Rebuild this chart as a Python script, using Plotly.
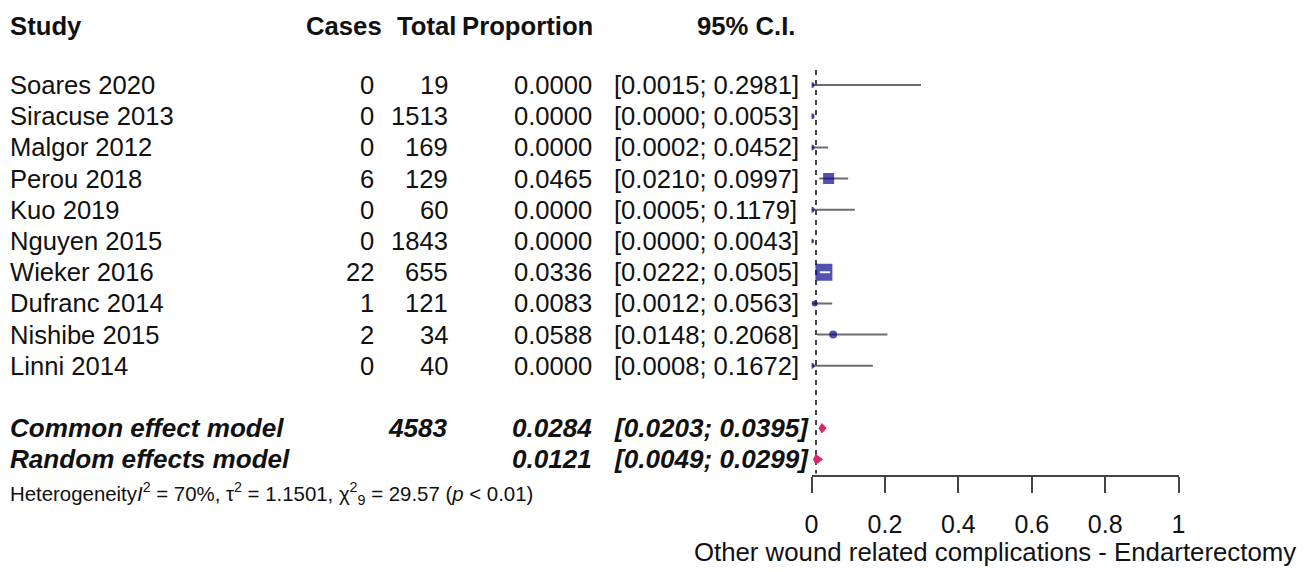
import plotly.graph_objects as go

# Study-level data
studies = ["Soares 2020", "Siracuse 2013", "Malgor 2012", "Perou 2018", "Kuo 2019",
           "Nguyen 2015", "Wieker 2016", "Dufranc 2014", "Nishibe 2015", "Linni 2014"]
cases = [0, 0, 0, 6, 0, 0, 22, 1, 2, 0]
totals = [19, 1513, 169, 129, 60, 1843, 655, 121, 34, 40]
proportion = [0.0000, 0.0000, 0.0000, 0.0465, 0.0000, 0.0000, 0.0336, 0.0083, 0.0588, 0.0000]
ci_lower = [0.0015, 0.0000, 0.0002, 0.0210, 0.0005, 0.0000, 0.0222, 0.0012, 0.0148, 0.0008]
ci_upper = [0.2981, 0.0053, 0.0452, 0.0997, 0.1179, 0.0043, 0.0505, 0.0563, 0.2068, 0.1672]

# Pooled estimates
model_names = ["Common effect model", "Random effects model"]
model_total = [4583, None]
model_est = [0.0284, 0.0121]
model_lower = [0.0203, 0.0049]
model_upper = [0.0395, 0.0299]

tick_values = [0, 0.2, 0.4, 0.6, 0.8, 1]
tick_labels = ["0", "0.2", "0.4", "0.6", "0.8", "1"]
x_title = "Other wound related complications - Endarterectomy"
heterogeneity = ("Heterogeneity<i>I</i><sup>2</sup> = 70%, τ<sup>2</sup> = 1.1501, "
                 "χ<sup>2</sup><sub>9</sub> = 29.57 (<i>p</i> &lt; 0.01)")

# Marker sizes (box area follows study weight)
box_sizes = [6, 6, 6, 11, 6, 5, 17, 6, 8, 6]

W, H = 1309, 572
ROW0, ROWH = 85, 31.2          # pixel centre of the first row and row pitch
FONT = "Liberation Sans, Arial, sans-serif"
TXT = "#111111"
PAD = 1                        # inner padding of annotation boxes
X_OFF, X_SCALE = 8, 0.988      # horizontal placement of the page content

n = len(studies)
rows = list(range(n))
model_rows = [n + 1, n + 2]
head_row = -1.89
het_row = 13.08


def px(x):
    """Horizontal pixel position -> paper fraction."""
    return (x - X_OFF) / X_SCALE / W


fig = go.Figure()

# Confidence-interval whiskers
lx, ly = [], []
for r, lo, hi in zip(rows, ci_lower, ci_upper):
    lx += [lo, hi, None]
    ly += [r, r, None]
fig.add_trace(go.Scatter(x=lx, y=ly, mode="lines",
                         line=dict(color="#6c6c6c", width=2),
                         hoverinfo="skip", showlegend=False))

# Reference line at the random-effects estimate
fig.add_trace(go.Scatter(x=[model_est[1], model_est[1]], y=[-0.48, 12.45], mode="lines",
                         line=dict(color="#444444", width=2, dash="5px,5px"),
                         hoverinfo="skip", showlegend=False))

# Study boxes
symbols = ["square" if s >= 10 else "circle" for s in box_sizes]
fig.add_trace(go.Scatter(x=proportion, y=rows, mode="markers",
                         marker=dict(color="#08088f", size=box_sizes, symbol=symbols,
                                     line=dict(width=0)),
                         hoverinfo="skip", showlegend=False))

# White whisker drawn over boxes wider than their interval
wx, wy = [], []
for r, lo, hi, s in zip(rows, ci_lower, ci_upper, box_sizes):
    if s >= 12 and (hi - lo) * 366.5 < s:
        wx += [lo, hi, None]
        wy += [r, r, None]
fig.add_trace(go.Scatter(x=wx, y=wy, mode="lines",
                         line=dict(color="white", width=2),
                         hoverinfo="skip", showlegend=False))

# Pooled diamonds
half = 0.15
for r, est, lo, hi in zip(model_rows, model_est, model_lower, model_upper):
    fig.add_trace(go.Scatter(x=[lo, est, hi, est, lo], y=[r, r - half, r, r + half, r],
                             mode="lines", fill="toself", fillcolor="#d9266a",
                             line=dict(color="#d9266a", width=1),
                             hoverinfo="skip", showlegend=False))

ann = []


def text(x, r, s, anchor="left", size=25.6, bold=False, italic=False):
    if italic:
        s = f"<i>{s}</i>"
    if bold:
        s = f"<b>{s}</b>"
    shift = -PAD if anchor == "left" else PAD
    ann.append(dict(x=px(x + shift), y=r, xref="paper", yref="y", text=s, showarrow=False,
                    xanchor=anchor, yanchor="middle",
                    font=dict(family=FONT, size=size, color=TXT)))


# Column headers
HS = 25.7
text(10, head_row, "Study", bold=True, size=HS)
text(384, head_row, "Cases", "right", bold=True, size=HS)
text(457, head_row, "Total", "right", bold=True, size=HS)
text(594, head_row, "Proportion", "right", bold=True, size=HS)
text(797, head_row, "95% C.I.", "right", bold=True, size=HS)

# Study rows
for r, name, c, t, p, lo, hi in zip(rows, studies, cases, totals, proportion, ci_lower, ci_upper):
    text(10, r, name)
    text(376, r, str(c), "right")
    text(449, r, str(t), "right")
    text(593, r, f"{p:.4f}", "right")
    text(613, r, f"[{lo:.4f}; {hi:.4f}]")

# Pooled rows
MS = 26.1
for r, name, t, est, lo, hi in zip(model_rows, model_names, model_total, model_est,
                                    model_lower, model_upper):
    text(10, r, name, bold=True, italic=True, size=MS)
    if t is not None:
        text(449, r, str(t), "right", bold=True, italic=True, size=MS)
    text(593, r, f"{est:.4f}", "right", bold=True, italic=True, size=MS)
    text(613, r, f"[{lo:.4f}; {hi:.4f}]", bold=True, italic=True, size=MS)

text(10, het_row, heterogeneity, size=20.4)

fig.update_layout(
    width=W, height=H,
    margin=dict(l=0, r=0, t=0, b=0),
    paper_bgcolor="white", plot_bgcolor="white",
    annotations=ann,
    xaxis=dict(domain=[px(811.5), px(1178)], range=[0, 1], anchor="free",
               position=1 - 476 / H, showgrid=False, zeroline=False,
               showline=True, linecolor="#444444", linewidth=2,
               ticks="outside", ticklen=16, tickwidth=2, tickcolor="#444444",
               tickvals=tick_values, ticktext=tick_labels, ticklabelstandoff=10,
               tickfont=dict(family=FONT, size=25, color=TXT),
               title=dict(text=x_title, standoff=4,
                          font=dict(family=FONT, size=25.8, color=TXT))),
    yaxis=dict(domain=[0, 1], range=[(H - ROW0) / ROWH, -ROW0 / ROWH],
               visible=False),
)

fig.write_html("out.html")
